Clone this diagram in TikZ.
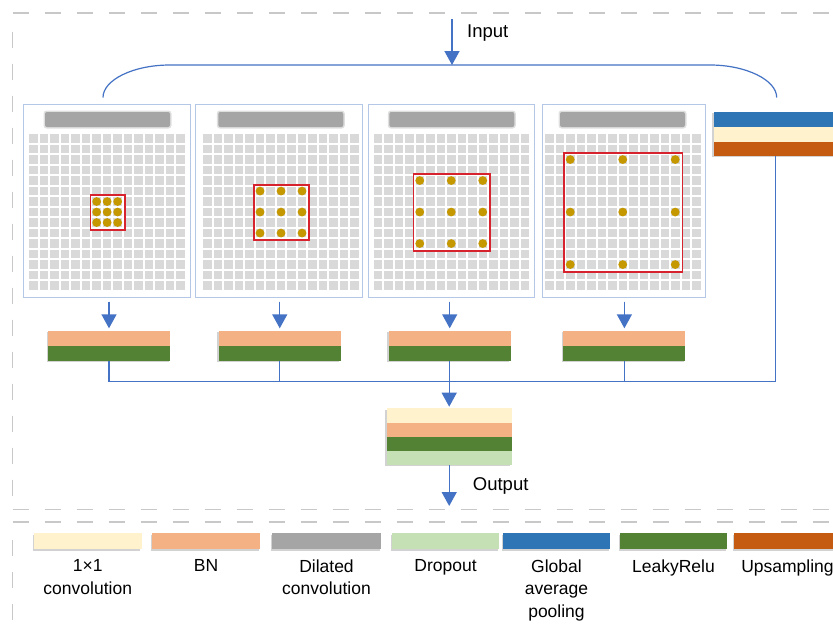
\documentclass[tikz,border=0pt]{standalone}
\usepackage{fontspec}
\setmainfont{Liberation Sans}
\usetikzlibrary{arrows.meta,shadows}
\definecolor{lineblue}{RGB}{68,114,196}
\definecolor{panelblue}{RGB}{180,199,231}
\definecolor{cellgray}{RGB}{217,217,217}
\definecolor{titlegray}{RGB}{165,165,165}
\definecolor{dotcol}{RGB}{197,152,0}
\definecolor{boxred}{RGB}{215,35,45}
\definecolor{framegray}{RGB}{200,200,200}
\definecolor{convcol}{RGB}{255,242,204}
\definecolor{bncol}{RGB}{244,177,131}
\definecolor{dilcol}{RGB}{165,165,165}
\definecolor{dropcol}{RGB}{197,224,180}
\definecolor{gapcol}{RGB}{46,117,182}
\definecolor{lrcol}{RGB}{84,130,53}
\definecolor{upcol}{RGB}{197,90,17}
\begin{document}
\begin{tikzpicture}[x=1pt,y=-1pt,
  panel/.style={draw=panelblue,line width=1pt,fill=white,inner sep=0pt,outer sep=0pt,minimum height=192.5pt},
  layer/.style={rectangle,inner sep=0pt,outer sep=0pt,draw=none,
    drop shadow={shadow xshift=-1.3pt,shadow yshift=-1.3pt,opacity=0.35}},
  line/.style={draw=lineblue,line width=1.2pt},
  arr/.style={draw=lineblue,line width=1.4pt,-{Triangle[length=14pt,width=15pt]},fill=lineblue},
  redbox/.style={draw=boxred,line width=1.6pt},
  frame/.style={draw=framegray,line width=1.5pt,dash pattern=on 16pt off 16pt},
  iolabel/.style={inner sep=0pt,font=\fontsize{18.5}{22}\selectfont},
  leglabel/.style={inner sep=0pt,align=center,font=\fontsize{17.5}{22.5}\selectfont}]
\useasboundingbox (0,0) rectangle (833,627);
\clip (0,0) rectangle (833,627);
\fill[white] (0,0) rectangle (833,627);
% dashed frames
\draw[frame] (12.7,13) -- (850,13);
\draw[frame] (12.7,31.5) -- (12.7,509.5);
\draw[frame] (12.7,509.5) -- (850,509.5);
\draw[frame] (12.7,522) -- (850,522);
\draw[frame] (12.7,540) -- (12.7,640);
% panels
\foreach \i/\px/\pr/\gx/\tx/\d in {1/23/190/29.4/45/1, 2/195.7/362.7/203.3/218.3/2, 3/368.3/534.3/373.5/389.3/3, 4/542.3/705/545/560/5} {
  \node[panel,minimum width={(\pr-\px)*1pt}] (p\i) at ({(\px+\pr)/2},200.75) {};
  \fill[titlegray,opacity=0.35,rounded corners=3pt] ({\tx-1.5},110.5) rectangle ++(128,18);
  \fill[titlegray,rounded corners=2pt] (\tx,112) rectangle ++(125,15);
  \foreach \c in {0,...,14} {
    \foreach \r in {0,...,14} {
      \fill[cellgray] ({\gx+\c*10.5},{134.3+\r*10.5}) rectangle ++(8.5,8.5);
    }
  }
  \foreach \a in {-1,0,1} {
    \foreach \b in {-1,0,1} {
      \fill[dotcol] ({\gx+(7+\a*\d)*10.5+4.25},{134.3+(7+\b*\d)*10.5+4.25}) circle (4.4);
    }
  }
  \draw[redbox] ({\gx+(7-\d)*10.5+4.25-6.3},{134.3+(7-\d)*10.5+4.25-6.3}) rectangle ({\gx+(7+\d)*10.5+4.25+7.2},{134.3+(7+\d)*10.5+4.25+7.2});
}
% right stack (global average pooling branch)
\node[layer,fill=gapcol,minimum width=123.5pt,minimum height=15pt] (gp) at (775.25,119.2) {};
\node[layer,fill=convcol,minimum width=123.5pt,minimum height=15pt] (gc) at (775.25,134.2) {};
\node[layer,fill=upcol,minimum width=123.5pt,minimum height=14.3pt] (gu) at (775.25,148.85) {};
% small stacks
\foreach \i/\cx in {1/109,2/279.75,3/449.7,4/624.4} {
  \node[layer,fill=bncol,minimum width=122pt,minimum height=15pt] (bn\i) at (\cx,338.2) {};
  \node[layer,fill=lrcol,minimum width=122pt,minimum height=15pt] (lr\i) at (\cx,353.2) {};
}
% output stack
\node[layer,fill=convcol,minimum width=125pt,minimum height=14.2pt] (oc) at (449.2,415.4) {};
\node[layer,fill=bncol,minimum width=125pt,minimum height=14.2pt] (ob) at (449.2,429.6) {};
\node[layer,fill=lrcol,minimum width=125pt,minimum height=14.3pt] (ol) at (449.2,443.85) {};
\node[layer,fill=dropcol,minimum width=125pt,minimum height=14pt] (od) at (449.2,458) {};
% input and brace
\coordinate (inS) at (452,19);
\coordinate (braceTop) at (452,65);
\coordinate (bl) at (103,97.5);
\coordinate (br) at (776.7,97.5);
\draw[line] (bl) .. controls (103,80) and (133,65) .. (170,65) -- (710,65) .. controls (746,65) and (776.7,80) .. (br);
\draw[arr] (inS) -- (braceTop);
\node[iolabel,anchor=base west] (inlab) at (467,37.5) {Input};
% panel arrows
\foreach \i in {1,2,3,4} {
  \draw[arr,shorten <=4.5pt,shorten >=2.4pt] (p\i.south -| bn\i.north) -- (bn\i.north);
}
% bus
\coordinate (bus) at (449.2,381.5);
\draw[line] (lr1.south) |- (gu.south |- bus) -- (gu.south);
\draw[line] (lr2.south) -- (lr2.south |- bus);
\draw[line] (lr3.south) -- (lr3.south |- bus);
\draw[line] (lr4.south) -- (lr4.south |- bus);
\draw[arr,shorten >=1.6pt] (bus) -- (oc.north);
\coordinate (outEnd) at (449.2,506);
\draw[arr] (od.south) -- (outEnd);
\node[iolabel,anchor=base west] (outlab) at (472.7,490) {Output};
% legend
\foreach \i/\xa/\xb/\col/\txt in {
  1/34/141.5/convcol/{1×1\\convolution},
  2/152/260/bncol/{BN},
  3/272/381/dilcol/{Dilated\\convolution},
  4/392/499/dropcol/{Dropout},
  5/503/610/gapcol/{Global\\average\\pooling},
  6/620/727/lrcol/{LeakyRelu},
  7/734/841/upcol/{Upsampling}} {
  \node[layer,fill=\col,minimum width={(\xb-\xa)*1pt},minimum height=16pt] (lg\i) at ({(\xa+\xb)/2},541.3) {};
  \node[leglabel,anchor=north] (lt\i) at ({(\xa+\xb)/2},559.5) {\txt};
}
\end{tikzpicture}
\end{document}
